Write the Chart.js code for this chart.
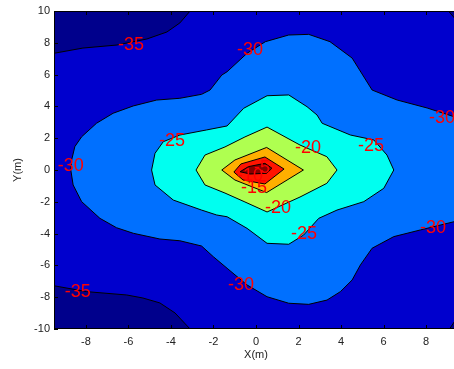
<!DOCTYPE html>
<html>
<head>
<meta charset="utf-8">
<script src="https://cdn.jsdelivr.net/npm/chart.js@4.4.1/dist/chart.umd.min.js"></script>
<style>
  html, body { margin: 0; padding: 0; background: #fff; overflow: hidden; }
  #wrap { width: 470px; height: 369px; }
</style>
</head>
<body>
<div id="wrap"><canvas id="contour" width="470" height="369"></canvas></div>
<script>
// Оси
const xRange = [-9.5, 9.5];
const yRange = [-10, 10];
const xTickValues = [-8, -6, -4, -2, 0, 2, 4, 6, 8];
const yTickValues = [-10, -8, -6, -4, -2, 0, 2, 4, 6, 8, 10];

// Контуры (x, y в метрах)
const navyTopLeft = [
    [-9.5, 10], [-9.5, 7.34], [-8.14, 7.67], [-6.54, 7.86], [-5.13, 8.24],
    [-4.19, 8.68], [-3.58, 9.25], [-3.1, 10]
];
const navyBottomLeft = [
    [-9.5, -10], [-9.5, -7.28], [-7.97, -7.65], [-6.08, -7.86], [-5.32, -8.05],
    [-4.52, -8.36], [-3.81, -8.99], [-3.1, -10]
];
const navyTopRight = [[9.05, 10], [9.5, 10], [9.5, 9.3]];
const navyBottomRight = [[9.1, -10], [9.5, -10], [9.5, -9.2]];

const level30 = [
    [9.5, 3.24], [9.32, 3.35], [8.05, 3.90], [6.64, 4.40], [5.46, 5.03], [4.52, 7.04],
    [3.48, 8.07], [2.48, 8.53], [1.54, 8.49], [0.44, 8.07], [-0.42, 7.34], [-1.36, 6.18],
    [-1.61, 5.97], [-2.16, 5.03], [-2.56, 4.76], [-3.58, 4.51], [-4.67, 4.40], [-5.77, 4.03],
    [-6.72, 3.57], [-7.50, 2.94], [-8.20, 2.09], [-8.52, 1.47], [-8.67, 0.63], [-8.71, 0],
    [-8.60, -0.94], [-8.20, -1.99], [-7.34, -3.04], [-6.56, -3.63], [-5.77, -3.98],
    [-4.52, -4.34], [-3.58, -4.45], [-2.56, -4.78], [-2.01, -5.45], [-1.36, -6.18],
    [-0.42, -7.23], [0.52, -7.97], [1.54, -8.38], [2.48, -8.45], [3.34, -8.18],
    [3.97, -7.65], [4.52, -6.92], [4.91, -5.97], [5.46, -4.92], [6.48, -4.19],
    [7.73, -3.77], [9.32, -3.25], [9.5, -3.18], [9.8, -3.18], [9.8, 3.24]
];
const level25 = [
    [-1.36, 2.77], [-2.32, 2.52], [-3.58, 2.20], [-4.36, 1.78], [-4.75, 1.05], [-4.91, 0],
    [-4.75, -0.94], [-3.89, -1.89], [-2.56, -2.52], [-1.85, -2.83], [-1.36, -2.94],
    [-0.42, -3.67], [0.52, -4.61], [1.54, -4.67], [2.24, -4.09], [2.95, -3.04], [3.81, -2.52],
    [5.07, -1.99], [6.01, -1.15], [6.48, 0], [6.16, 0.94], [5.54, 1.89], [4.44, 2.20],
    [3.11, 2.94], [2.87, 3.46], [2.40, 3.98], [1.54, 4.72], [0.52, 4.67], [-0.58, 3.88]
];
const level20 = [
    [-2.82, 0], [-2.40, 0.94], [-1.46, 1.45], [-0.52, 2.08], [0.52, 2.70], [2.07, 1.57],
    [3.33, 0.84], [3.81, 0], [3.33, -0.84], [2.07, -1.70], [0.52, -2.64], [-0.52, -2.01],
    [-1.46, -1.45], [-2.40, -0.94]
];
const level15 = [[-1.61, 0], [-0.99, 0.63], [0.50, 1.42], [2.23, 0], [0.50, -1.42], [-0.99, -0.63]];
const level10 = [[-1.04, -0.13], [-0.71, 0.38], [0.42, 0.82], [1.32, 0.06], [0.42, -0.88], [-0.61, -0.63]];
const level5 = [[-0.75, -0.11], [-0.36, 0.21], [0.42, 0.42], [0.75, 0.11], [0.50, -0.21], [-0.28, -0.25]];

// Подписи уровней
const labelTexts = ['-35', '-30', '-30', '-25', '-20', '-25', '-30', '-10', '-5', '-15', '-20', '-25', '-30', '-30', '-35'];
const labelPoints = [
    [-5.88, 7.86], [-0.28, 7.55], [8.75, 3.27], [-3.95, 1.82], [2.45, 1.38], [5.41, 1.51],
    [-8.71, 0.25], [-0.28, -0.38], [0.28, 0.13], [-0.09, -1.13], [1.04, -2.39], [2.26, -4.03],
    [8.33, -3.65], [-0.71, -7.23], [-8.38, -7.67]
];

const toXY = pts => {
    const out = pts.map(p => ({ x: p[0], y: p[1] }));
    out.push({ x: pts[0][0], y: pts[0][1] });
    return out;
};

function region(pts, color) {
    return {
        data: toXY(pts),
        showLine: true,
        fill: 'shape',
        backgroundColor: color,
        borderColor: '#000',
        borderWidth: 1,
        pointRadius: 0,
        tension: 0
    };
}

// Порядок: внутренние первыми (рисуются сверху)
const datasets = [
    region(level5, 'rgb(135, 0, 0)'),
    region(level10, 'rgb(255, 20, 0)'),
    region(level15, 'rgb(255, 175, 0)'),
    region(level20, 'rgb(175, 255, 80)'),
    region(level25, 'rgb(0, 255, 240)'),
    region(level30, 'rgb(0, 112, 255)'),
    region(navyTopLeft, 'rgb(0, 0, 140)'),
    region(navyBottomLeft, 'rgb(0, 0, 140)'),
    region(navyTopRight, 'rgb(0, 0, 140)'),
    region(navyBottomRight, 'rgb(0, 0, 140)')
];

const areaFill = {
    id: 'areaFill',
    beforeDatasetsDraw(chart) {
        const { ctx, chartArea: a } = chart;
        ctx.save();
        ctx.fillStyle = 'rgb(0, 0, 205)';
        ctx.fillRect(a.left, a.top, a.right - a.left, a.bottom - a.top);
        ctx.restore();
    }
};

const labelsAndBox = {
    id: 'labelsAndBox',
    afterDatasetsDraw(chart) {
        const { ctx, chartArea: a, scales } = chart;
        ctx.save();
        ctx.font = '18px "Liberation Sans", Arial, sans-serif';
        ctx.fillStyle = 'rgb(255, 0, 0)';
        ctx.textAlign = 'center';
        ctx.textBaseline = 'middle';
        labelTexts.forEach((t, i) => {
            ctx.fillText(t, scales.x.getPixelForValue(labelPoints[i][0]), scales.y.getPixelForValue(labelPoints[i][1]));
        });

        // рамка и засечки внутрь
        ctx.strokeStyle = '#000';
        ctx.lineWidth = 1;
        ctx.strokeRect(a.left + 0.5, a.top + 0.5, a.right - a.left - 1, a.bottom - a.top - 1);
        ctx.beginPath();
        xTickValues.forEach(v => {
            const px = Math.round(scales.x.getPixelForValue(v)) + 0.5;
            ctx.moveTo(px, a.bottom); ctx.lineTo(px, a.bottom - 4);
            ctx.moveTo(px, a.top); ctx.lineTo(px, a.top + 4);
        });
        yTickValues.forEach(v => {
            const py = Math.round(scales.y.getPixelForValue(v)) + 0.5;
            ctx.moveTo(a.left, py); ctx.lineTo(a.left + 4, py);
            ctx.moveTo(a.right, py); ctx.lineTo(a.right - 4, py);
        });
        ctx.stroke();
        ctx.restore();
    }
};

const tickFont = { family: '"Liberation Sans", Arial, sans-serif', size: 11 };

new Chart(document.getElementById('contour').getContext('2d'), {
    type: 'scatter',
    data: { datasets },
    options: {
        responsive: false,
        animation: false,
        layout: { padding: { top: 11, right: 12, left: 0, bottom: 0 } },
        plugins: { legend: { display: false }, tooltip: { enabled: false } },
        scales: {
            x: {
                type: 'linear',
                min: xRange[0],
                max: xRange[1],
                afterBuildTicks: s => { s.ticks = xTickValues.map(v => ({ value: v })); },
                afterFit: s => { s.height = 40; },
                grid: { display: false, drawTicks: false },
                border: { display: false },
                ticks: { font: tickFont, color: '#222', padding: 6, maxRotation: 0 },
                title: { display: true, text: 'X(m)', font: tickFont, color: '#222', padding: { top: 0, bottom: 7 } }
            },
            y: {
                type: 'linear',
                min: yRange[0],
                max: yRange[1],
                afterBuildTicks: s => { s.ticks = yTickValues.map(v => ({ value: v })); },
                afterFit: s => { s.width = 54; },
                grid: { display: false, drawTicks: false },
                border: { display: false },
                ticks: { font: tickFont, color: '#222', padding: 4 },
                title: { display: true, text: 'Y(m)', font: tickFont, color: '#222', padding: { top: 11, bottom: 0 } }
            }
        }
    },
    plugins: [areaFill, labelsAndBox]
});
</script>
</body>
</html>
